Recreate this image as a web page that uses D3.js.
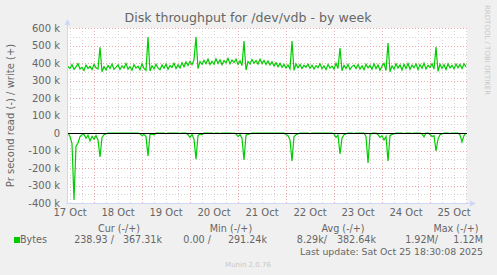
<!DOCTYPE html>
<html>
<head>
<meta charset="utf-8">
<script src="https://cdn.jsdelivr.net/npm/d3@7"></script>
<style>
  body { margin: 0; background: #f0f0f0; }
  svg { display: block; font-family: "DejaVu Sans", sans-serif; }
</style>
</head>
<body>
<div id="chart"></div>
<script>
// Chart data (hourly samples, bytes/s in k)
var title = "Disk throughput for /dev/vdb - by week";
var startTime = new Date(2025, 9, 17, 10, 30);
var endTime = new Date(2025, 9, 25, 18, 30);

var writeK = [
  380,368,390,364,378,396,366,375,358,388,369,381,362,392,372,366,490,350,379,360,386,369,394,364,
  376,389,363,383,370,398,365,380,359,391,371,382,361,396,369,358,548,354,384,366,392,372,362,389,
  370,394,364,386,375,399,368,389,372,402,378,406,386,410,390,418,549,368,408,392,416,396,422,391,
  410,393,424,398,418,390,414,401,427,395,417,403,422,392,412,386,525,360,408,395,420,399,414,394,
  421,397,415,392,412,389,407,383,401,379,398,375,392,371,389,367,525,358,395,373,391,368,387,376,
  393,370,388,366,385,373,395,367,384,362,391,371,382,365,398,369,486,356,386,368,392,363,381,388,
  369,391,366,384,361,393,372,386,364,395,368,389,359,382,398,357,514,350,384,365,395,371,389,360,
  392,368,397,364,388,373,394,362,391,370,399,366,387,374,396,365,491,353,393,369,390,363,395,372,
  387,366,394,373,391,368,396,378
];

var readK = [
  0,20,60,383,75,57,20,10,8,30,12,45,20,35,15,40,137,25,10,5,0,0,0,0,
  0,0,0,0,0,0,0,0,0,0,0,0,5,15,8,20,131,10,5,12,0,0,0,0,
  0,4,0,0,0,0,0,0,3,0,0,0,10,25,8,35,149,15,6,10,0,0,0,0,
  0,3,0,0,3,0,0,0,0,0,2,0,5,20,10,30,154,12,8,4,0,0,0,0,
  0,0,0,0,0,0,0,0,0,0,0,0,0,8,15,40,160,20,10,5,0,0,0,0,
  0,4,0,0,0,0,0,0,0,0,0,0,0,6,25,12,120,30,10,5,0,0,0,3,
  0,0,0,0,0,20,171,10,0,0,0,10,25,15,40,20,160,15,8,5,0,0,0,0,
  4,0,0,0,3,0,0,0,0,5,22,0,0,8,20,15,103,35,10,6,0,0,0,3,
  0,0,0,0,10,51,15,0
];

var yTicks = [600, 500, 400, 300, 200, 100, 0, -100, -200, -300, -400];

var legendHeads = ["Cur (-/+)", "Min (-/+)", "Avg (-/+)", "Max (-/+)"];
var legendReads = ["238.93 /", "0.00 /", "8.29k/", "1.92M/"];
var legendWrites = ["367.31k", "291.24k", "382.64k", "1.12M"];

var svgWidth = 497;
var svgHeight = 275;
var plot = { left: 67, right: 467, top: 28, bottom: 203 };
var fontColor = "#666666";
var lineColor = "#00cc00";
var axisColor = "#cfd6f8";

var svg = d3.select("#chart")
  .append("svg")
  .attr("width", svgWidth)
  .attr("height", svgHeight);

svg.append("rect")
  .attr("width", svgWidth)
  .attr("height", svgHeight)
  .attr("fill", "#f0f0f0");

var xScale = d3.scaleTime()
  .domain([startTime, endTime])
  .range([plot.left, plot.right]);

var yScale = d3.scaleLinear()
  .domain([-400000, 600000])
  .range([plot.bottom, plot.top]);

// canvas
svg.append("rect")
  .attr("x", plot.left)
  .attr("y", plot.top)
  .attr("width", plot.right - plot.left)
  .attr("height", plot.bottom - plot.top)
  .attr("fill", "white");

// grid
var minorY = d3.range(-400000, 600001, 50000).filter(d => d % 100000 !== 0);
var majorY = d3.range(-400000, 600001, 100000);
var sixHours = d3.timeHour.every(6).range(startTime, endTime).filter(d => d.getHours() !== 0);
var days = d3.timeDay.range(startTime, endTime);

var grid = svg.append("g");
grid.selectAll(".minx")
  .data(sixHours)
  .enter()
  .append("line")
  .attr("x1", d => Math.round(xScale(d)) + 0.5)
  .attr("x2", d => Math.round(xScale(d)) + 0.5)
  .attr("y1", plot.top)
  .attr("y2", plot.bottom)
  .attr("stroke", "#d4d4d4")
  .attr("stroke-dasharray", "1,2");

grid.selectAll(".miny")
  .data(minorY)
  .enter()
  .append("line")
  .attr("x1", plot.left)
  .attr("x2", plot.right)
  .attr("y1", d => Math.round(yScale(d)) + 0.5)
  .attr("y2", d => Math.round(yScale(d)) + 0.5)
  .attr("stroke", "#d4d4d4")
  .attr("stroke-dasharray", "1,2");

grid.selectAll(".majx")
  .data(days)
  .enter()
  .append("line")
  .attr("x1", d => Math.round(xScale(d)) + 0.5)
  .attr("x2", d => Math.round(xScale(d)) + 0.5)
  .attr("y1", plot.top)
  .attr("y2", plot.bottom)
  .attr("stroke", "#eeaaaa")
  .attr("stroke-dasharray", "1,2");

grid.selectAll(".majy")
  .data(majorY)
  .enter()
  .append("line")
  .attr("x1", plot.left)
  .attr("x2", plot.right)
  .attr("y1", d => Math.round(yScale(d)) + 0.5)
  .attr("y2", d => Math.round(yScale(d)) + 0.5)
  .attr("stroke", "#eeaaaa")
  .attr("stroke-dasharray", "1,2");

// series
function timeAt(i) {
  return new Date(startTime.getTime() + (i + 0.5) * 3600e3);
}

var line = d3.line()
  .x(d => xScale(d.t))
  .y(d => yScale(d.v));

var writeData = writeK.map((v, i) => ({ t: timeAt(i), v: v * 1000 }));
var readData = readK.map((v, i) => ({ t: timeAt(i), v: -v * 1000 }));

svg.append("path")
  .datum(readData)
  .attr("d", line)
  .attr("fill", "none")
  .attr("stroke", lineColor)
  .attr("stroke-width", 1.2);

svg.append("path")
  .datum(writeData)
  .attr("d", line)
  .attr("fill", "none")
  .attr("stroke", lineColor)
  .attr("stroke-width", 1.2);

// zero rule
svg.append("line")
  .attr("x1", plot.left)
  .attr("x2", plot.right)
  .attr("y1", Math.round(yScale(0)) + 0.5)
  .attr("y2", Math.round(yScale(0)) + 0.5)
  .attr("stroke", "black");

// axes
svg.append("line")
  .attr("x1", plot.left + 0.5)
  .attr("x2", plot.left + 0.5)
  .attr("y1", plot.bottom + 1)
  .attr("y2", plot.top - 6)
  .attr("stroke", axisColor);
svg.append("path")
  .attr("d", `M${plot.left - 2.5},${plot.top - 3} L${plot.left + 3.5},${plot.top - 3} L${plot.left + 0.5},${plot.top - 9} Z`)
  .attr("fill", axisColor);

svg.append("line")
  .attr("x1", plot.left - 1)
  .attr("x2", plot.right + 6)
  .attr("y1", plot.bottom + 0.5)
  .attr("y2", plot.bottom + 0.5)
  .attr("stroke", axisColor);
svg.append("path")
  .attr("d", `M${plot.right + 3},${plot.bottom - 2.5} L${plot.right + 3},${plot.bottom + 3.5} L${plot.right + 9},${plot.bottom + 0.5} Z`)
  .attr("fill", axisColor);

// y labels
svg.append("g")
  .selectAll("text")
  .data(yTicks)
  .enter()
  .append("text")
  .attr("x", 60)
  .attr("y", d => yScale(d * 1000) + 3.5)
  .attr("text-anchor", "end")
  .attr("font-size", "10px")
  .attr("fill", fontColor)
  .text(d => d === 0 ? "0" : d + " k");

// x labels, centered at noon
var noons = days.map(d => d3.timeHour.offset(d, -12)).concat([d3.timeHour.offset(days[days.length - 1], 12)]);
svg.append("g")
  .selectAll("text")
  .data(noons)
  .enter()
  .append("text")
  .attr("x", d => xScale(d))
  .attr("y", 216)
  .attr("text-anchor", "middle")
  .attr("font-size", "10px")
  .attr("fill", fontColor)
  .text(d3.timeFormat("%d %b"));

// titles
svg.append("text")
  .attr("x", 248)
  .attr("y", 22)
  .attr("text-anchor", "middle")
  .attr("font-size", "12.6px")
  .attr("fill", fontColor)
  .text(title);

svg.append("text")
  .attr("transform", `translate(14, ${(plot.top + plot.bottom) / 2}) rotate(-90)`)
  .attr("text-anchor", "middle")
  .attr("font-size", "10px")
  .attr("fill", fontColor)
  .text("Pr second read (-) / write (+)");

svg.append("text")
  .attr("transform", "translate(485, 5) rotate(90)")
  .attr("font-size", "7px")
  .attr("fill", "#c8c8c8")
  .text("RRDTOOL / TOBI OETIKER");

// legend
var headX = [119, 231, 343, 456];
svg.append("g")
  .selectAll("text")
  .data(legendHeads)
  .enter()
  .append("text")
  .attr("x", (d, i) => headX[i])
  .attr("y", 232)
  .attr("text-anchor", "middle")
  .attr("font-size", "9.6px")
  .attr("fill", fontColor)
  .text(d => d);

svg.append("rect")
  .attr("x", 14)
  .attr("y", 237)
  .attr("width", 6)
  .attr("height", 6)
  .attr("fill", lineColor);

svg.append("text")
  .attr("x", 20)
  .attr("y", 243)
  .attr("font-size", "9.6px")
  .attr("fill", fontColor)
  .text("Bytes");

var readEndX = [114, 211, 327, 438];
var writeEndX = [162, 267, 376, 483];
svg.append("g")
  .selectAll("text")
  .data(legendReads)
  .enter()
  .append("text")
  .attr("x", (d, i) => readEndX[i])
  .attr("y", 243)
  .attr("text-anchor", "end")
  .attr("font-size", "9.6px")
  .attr("fill", fontColor)
  .text(d => d);

svg.append("g")
  .selectAll("text")
  .data(legendWrites)
  .enter()
  .append("text")
  .attr("x", (d, i) => writeEndX[i])
  .attr("y", 243)
  .attr("text-anchor", "end")
  .attr("font-size", "9.6px")
  .attr("fill", fontColor)
  .text(d => d);

svg.append("text")
  .attr("x", 483)
  .attr("y", 255)
  .attr("text-anchor", "end")
  .attr("font-size", "9.4px")
  .attr("fill", fontColor)
  .text("Last update: Sat Oct 25 18:30:08 2025");

svg.append("text")
  .attr("x", 248)
  .attr("y", 267)
  .attr("text-anchor", "middle")
  .attr("font-size", "7px")
  .attr("fill", "#c8c8c8")
  .text("Munin 2.0.76");
</script>
</body>
</html>
